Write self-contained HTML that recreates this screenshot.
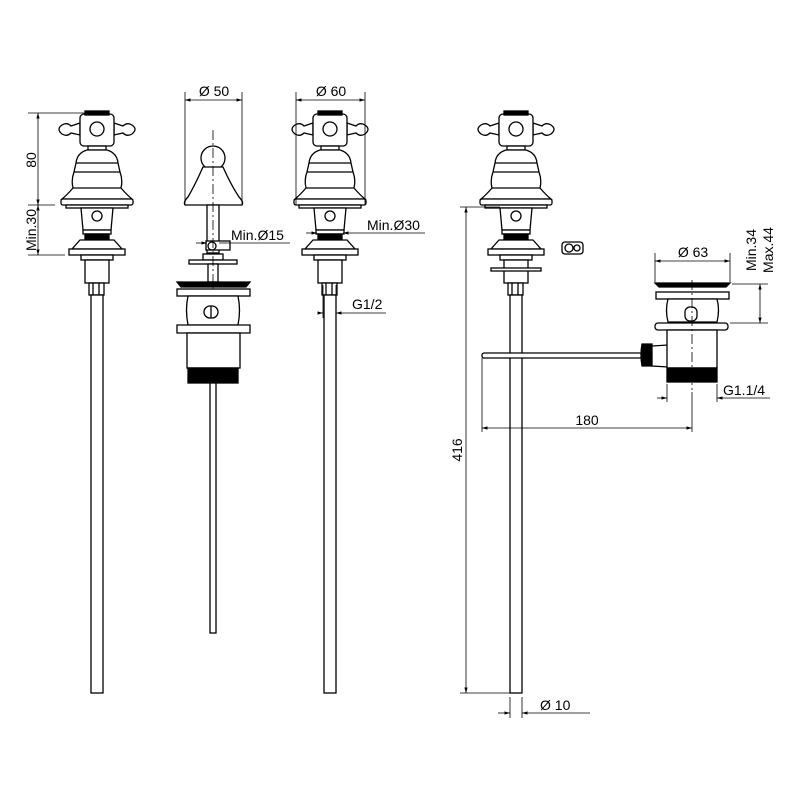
<!DOCTYPE html>
<html><head><meta charset="utf-8"><style>
html,body{margin:0;padding:0;background:#fff;}
svg{display:block;}
text{font-family:"Liberation Sans",sans-serif;font-size:14px;fill:#000;}
</style></head><body>
<svg width="800" height="800" viewBox="0 0 800 800" xmlns="http://www.w3.org/2000/svg">
<defs>
<marker id="a" viewBox="0 0 10 10" refX="10" refY="5" markerWidth="7" markerHeight="7" orient="auto-start-reverse"><path d="M0,2 L10,5 L0,8 z" fill="#000"/></marker>
<g id="tap" fill="#fff" stroke="#000" stroke-width="1.3">
  <path d="M-17,123 L-26,126 Q-30,122 -35,125 Q-41,129 -35,134 Q-30,137 -26,133 L-17,135 Z"/>
  <path d="M17,123 L26,126 Q30,122 35,125 Q41,129 35,134 Q30,137 26,133 L17,135 Z"/>
  <rect x="-17" y="114" width="34" height="32" rx="4"/>
  <rect x="-12" y="111" width="24" height="4" fill="#000"/>
  <circle cx="0" cy="129" r="7"/>
  <rect x="-9" y="146" width="18" height="4"/>
  <path d="M-10,150 Q-20,153 -21,163 L-23,172 Q-26,180 -24,188 Q-30,195 -35,199 L35,199 Q30,195 24,188 Q26,180 23,172 L21,163 Q20,153 10,150 Z"/>
  <line x1="-21" y1="163" x2="21" y2="163"/><line x1="-23" y1="172" x2="23" y2="172"/><line x1="-24" y1="188" x2="24" y2="188"/>
  <rect x="-36" y="199" width="72" height="6" rx="2"/>
  <rect x="-31" y="205" width="62" height="3"/>
  <path d="M-16,208 L16,208 L14,230 L-14,230 Z"/>
  <circle cx="0" cy="216" r="5"/>
  <rect x="-14" y="230" width="28" height="4"/>
  <rect x="-12" y="234" width="24" height="6" fill="#000"/>
  <path d="M-17,240 L17,240 L25,249 L-25,249 Z"/>
  <rect x="-28" y="249" width="56" height="6"/>
  <rect x="-16" y="255" width="32" height="5"/>
  <rect x="-12" y="260" width="24" height="23"/>
  <rect x="-8" y="283" width="15" height="12"/>
  <line x1="-4" y1="283" x2="-4" y2="295"/><line x1="2" y1="283" x2="2" y2="295"/>
</g>
</defs>
<g fill="none" stroke="#000" stroke-width="1.3">
<use href="#tap" x="97"/>
<rect x="91" y="295" width="12" height="398" fill="#fff"/>
<use href="#tap" x="330"/>
<rect x="324" y="295" width="12" height="398" fill="#fff"/>
<use href="#tap" x="516"/>
<rect x="491" y="268" width="50" height="3" fill="#fff"/>
<rect x="510" y="295" width="12" height="398" fill="#fff"/>
<circle cx="213" cy="158" r="12" fill="#fff"/>
<path d="M203,167 Q195,185 188,197 Q183,202 185,205 L242,205 Q244,202 239,197 Q231,185 223,167 Z" fill="#fff"/>
<rect x="207" y="205" width="12" height="48" fill="#fff"/>
<rect x="206" y="241" width="24" height="9" fill="#fff"/>
<circle cx="212" cy="246" r="4"/>
<rect x="203" y="254" width="20" height="6" fill="#fff"/>
<rect x="189" y="260" width="48" height="4" fill="#fff"/>
<rect x="208" y="264" width="10" height="18" fill="#fff"/>
<path d="M177,282 L250,282 L246,287 L181,287 Z" fill="#000"/>
<rect x="177" y="289" width="73" height="7" fill="#fff"/>
<path d="M188,296 Q185,310 188,325 L238,325 Q241,310 238,296 Z" fill="#fff"/>
<rect x="204" y="306" width="14" height="12" rx="6" fill="#fff"/>
<line x1="211" y1="306" x2="211" y2="318"/>
<path d="M177,325 L250,325 L250,333 L177,333 Z" fill="#fff"/>
<rect x="187" y="333" width="53" height="35" fill="#fff"/>
<rect x="188" y="368" width="50" height="15" fill="#000"/>
<rect x="210" y="383" width="6" height="250" fill="#fff"/>
<rect x="482" y="353" width="160" height="5" rx="2" fill="#fff"/>
<path d="M642,344 Q640,355 642,366 L652,366 L652,344 Z" fill="#000"/>
<path d="M652,346 L668,345 Q673,355 668,367 L652,366 Z" fill="#fff"/>
<path d="M655,283 L730,283 L726,287 L659,287 Z" fill="#000"/>
<rect x="656" y="292" width="73" height="7" fill="#fff"/>
<path d="M668,299 Q665,310 668,322 L717,322 Q720,310 717,299 Z" fill="#fff"/>
<rect x="685" y="307" width="12" height="14" rx="5" fill="#fff"/>
<rect x="655" y="323" width="73" height="7" rx="3" fill="#fff"/>
<rect x="667" y="330" width="50" height="38" fill="#fff"/>
<rect x="667" y="368" width="50" height="14" fill="#000"/>
<rect x="562" y="242" width="21" height="12" rx="3" fill="#fff"/>
<circle cx="569" cy="248" r="4"/><circle cx="577" cy="248" r="3"/>
</g>
<g stroke="#000" stroke-width="0.8" stroke-dasharray="10,3,2,3">
<line x1="213" y1="130" x2="213" y2="290"/>
<line x1="692" y1="280" x2="692" y2="390"/>
</g>
<g stroke="#000" stroke-width="0.8" fill="none">
<line x1="28" y1="113" x2="90" y2="113"/>
<line x1="28" y1="205" x2="55" y2="205"/>
<line x1="28" y1="255" x2="65" y2="255"/>
<line x1="38" y1="113" x2="38" y2="205" marker-start="url(#a)" marker-end="url(#a)"/>
<line x1="38" y1="205" x2="38" y2="255" marker-start="url(#a)" marker-end="url(#a)"/>
<line x1="185" y1="92" x2="185" y2="205"/><line x1="242" y1="92" x2="242" y2="205"/>
<line x1="185" y1="100" x2="242" y2="100" marker-start="url(#a)" marker-end="url(#a)"/>
<line x1="296" y1="92" x2="296" y2="205"/><line x1="365" y1="92" x2="365" y2="205"/>
<line x1="296" y1="100" x2="365" y2="100" marker-start="url(#a)" marker-end="url(#a)"/>
<line x1="196" y1="243" x2="207" y2="243" marker-end="url(#a)"/>
<line x1="219" y1="243" x2="290" y2="243"/>
<line x1="306" y1="233" x2="317" y2="233" marker-end="url(#a)"/>
<line x1="343" y1="233" x2="425" y2="233" marker-start="url(#a)"/>
<line x1="323" y1="285" x2="323" y2="318"/><line x1="336" y1="285" x2="336" y2="318"/>
<line x1="318" y1="313" x2="323" y2="313" marker-end="url(#a)"/>
<line x1="336" y1="313" x2="386" y2="313" marker-start="url(#a)"/>
<line x1="460" y1="207" x2="500" y2="207"/>
<line x1="460" y1="693" x2="510" y2="693"/>
<line x1="466" y1="207" x2="466" y2="693" marker-start="url(#a)" marker-end="url(#a)"/>
<line x1="510" y1="697" x2="510" y2="718"/><line x1="522" y1="697" x2="522" y2="718"/>
<line x1="498" y1="713" x2="510" y2="713" marker-end="url(#a)"/>
<line x1="522" y1="713" x2="590" y2="713" marker-start="url(#a)"/>
<line x1="655" y1="253" x2="655" y2="282"/><line x1="730" y1="253" x2="730" y2="282"/>
<line x1="655" y1="261" x2="730" y2="261" marker-start="url(#a)" marker-end="url(#a)"/>
<line x1="732" y1="284" x2="768" y2="284"/><line x1="730" y1="323" x2="768" y2="323"/>
<line x1="760" y1="284" x2="760" y2="323" marker-start="url(#a)" marker-end="url(#a)"/>
<line x1="482" y1="358" x2="482" y2="432"/><line x1="692" y1="392" x2="692" y2="432"/>
<line x1="482" y1="428" x2="692" y2="428" marker-start="url(#a)" marker-end="url(#a)"/>
<line x1="667" y1="384" x2="667" y2="402"/><line x1="717" y1="384" x2="717" y2="402"/>
<line x1="657" y1="398" x2="667" y2="398" marker-end="url(#a)"/>
<line x1="717" y1="398" x2="770" y2="398" marker-start="url(#a)"/>
</g>
<g>
<text transform="translate(36,160) rotate(-90)" text-anchor="middle">80</text>
<text transform="translate(36,230) rotate(-90)" text-anchor="middle">Min.30</text>
<text x="214" y="96" text-anchor="middle">Ø 50</text>
<text x="331" y="96" text-anchor="middle">Ø 60</text>
<text x="231" y="240">Min.Ø15</text>
<text x="367" y="230">Min.Ø30</text>
<text x="352" y="309">G1/2</text>
<text transform="translate(462,450) rotate(-90)" text-anchor="middle">416</text>
<text x="540" y="710">Ø 10</text>
<text x="693" y="257" text-anchor="middle">Ø 63</text>
<text transform="translate(756,250) rotate(-90)" text-anchor="middle">Min.34</text>
<text transform="translate(773,250) rotate(-90)" text-anchor="middle">Max.44</text>
<text x="723" y="395">G1.1/4</text>
<text x="587" y="425" text-anchor="middle">180</text>
</g>
</svg>
</body></html>
